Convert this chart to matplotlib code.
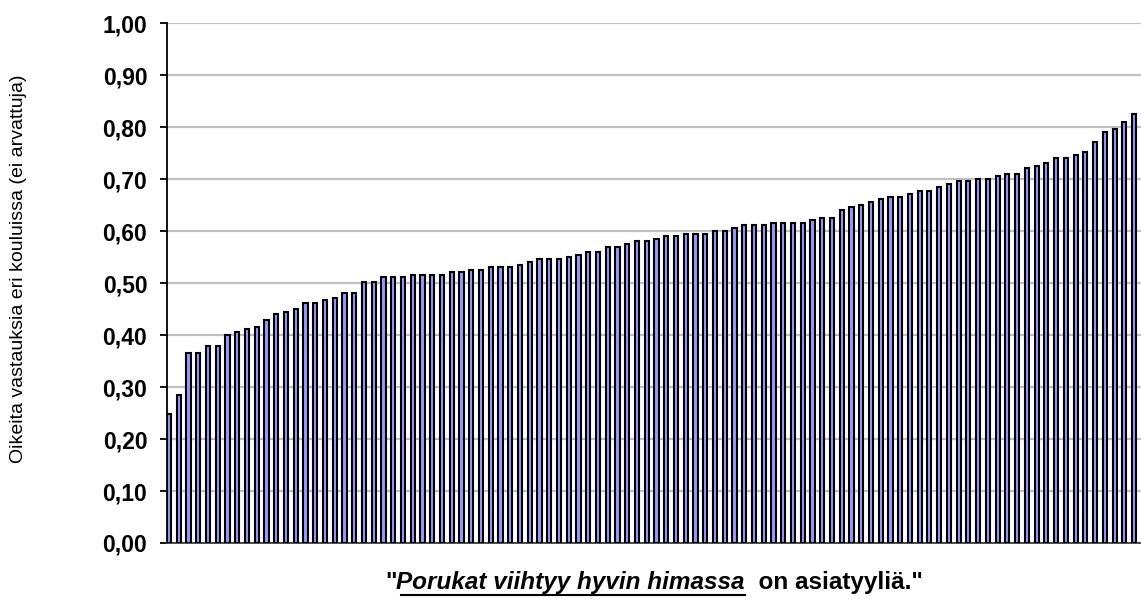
import matplotlib
matplotlib.use('Agg')
import matplotlib.pyplot as plt
import numpy as np
from matplotlib.lines import Line2D
from matplotlib.ticker import FuncFormatter

plt.rcParams['font.family'] = ['Liberation Sans', 'DejaVu Sans']

# share of correct answers per school, sorted
values = [0.249, 0.285, 0.366, 0.366, 0.380, 0.380, 0.400, 0.406, 0.411, 0.416,
          0.430, 0.440, 0.445, 0.450, 0.462, 0.462, 0.467, 0.472, 0.482, 0.482,
          0.502, 0.502, 0.512, 0.512, 0.512, 0.516, 0.516, 0.516, 0.516, 0.521,
          0.521, 0.526, 0.526, 0.531, 0.531, 0.531, 0.536, 0.541, 0.546, 0.546,
          0.546, 0.550, 0.555, 0.561, 0.561, 0.570, 0.570, 0.575, 0.581, 0.581,
          0.585, 0.590, 0.590, 0.595, 0.595, 0.595, 0.601, 0.601, 0.606, 0.612,
          0.612, 0.612, 0.616, 0.616, 0.616, 0.616, 0.621, 0.626, 0.626, 0.641,
          0.646, 0.651, 0.656, 0.662, 0.666, 0.666, 0.672, 0.677, 0.677, 0.686,
          0.691, 0.696, 0.696, 0.700, 0.700, 0.706, 0.711, 0.711, 0.721, 0.726,
          0.732, 0.741, 0.741, 0.746, 0.752, 0.772, 0.791, 0.796, 0.811, 0.826]
y_ticks = [0.0, 0.1, 0.2, 0.3, 0.4, 0.5, 0.6, 0.7, 0.8, 0.9, 1.0]

ylabel = 'Oikeita vastauksia eri kouluissa (ei arvattuja)'
xlabel_parts = ['"', 'Porukat viihtyy hyvin himassa', '  on asiatyyliä."']

fig = plt.figure(figsize=(11.41, 5.99), dpi=100)
ax = fig.add_axes([0.1461, 0.0935, 0.8539, 0.8673])

x = np.arange(len(values))
ax.bar(x, values, width=0.42, color='#9999ff', edgecolor='black', linewidth=1.5, zorder=3)

ax.set_xlim(-0.24, 99.7)
ax.set_ylim(0, 1)
ax.set_yticks(y_ticks)
ax.yaxis.set_major_formatter(FuncFormatter(lambda v, p: f'{v:.2f}'.replace('.', ',')))
ax.set_xticks([])
ax.grid(axis='y', color='#c0c0c0', linewidth=1.6, zorder=0)

for s in ['top', 'right']:
    ax.spines[s].set_visible(False)
ax.spines['left'].set_linewidth(1.3)
ax.spines['bottom'].set_linewidth(1.3)
ax.spines['bottom'].set_color('#404040')
ax.tick_params(axis='y', length=5, width=1.3, pad=9, labelsize=16.5)
for lbl in ax.get_yticklabels():
    lbl.set_fontweight('bold')

fig.text(0.0158, 0.551, ylabel, rotation=90, ha='center', va='center', fontsize=14)

# x label built from pieces so the middle part can be underlined
fig.canvas.draw()
r = fig.canvas.get_renderer()
W = fig.bbox.width
y_txt = 0.027
styles = [dict(fontweight='bold'),
          dict(fontweight='bold', fontstyle='italic'),
          dict(fontweight='bold')]
texts = []
xpos = 0.0
for part, st in zip(xlabel_parts, styles):
    t = fig.text(xpos, y_txt, part, fontsize=17.5, va='center', ha='left', **st)
    w = t.get_window_extent(r).width / W
    texts.append((t, xpos, w))
    xpos += w
shift = 0.573 - xpos / 2
for t, x0, w in texts:
    t.set_x(x0 + shift)
t2, x2, w2 = texts[1]
uy = y_txt - 0.021
fig.add_artist(Line2D([x2 + shift + 0.004, x2 + shift + w2], [uy, uy], transform=fig.transFigure,
                      color='black', linewidth=1.5))

fig.savefig('out.png', dpi=100)
